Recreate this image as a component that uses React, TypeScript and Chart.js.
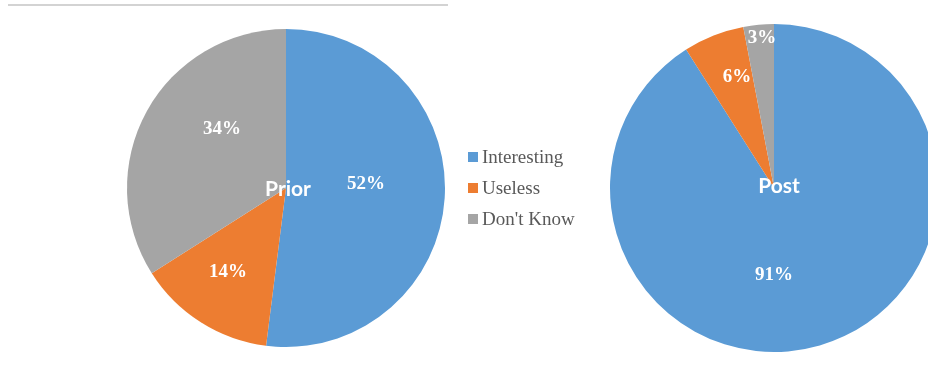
import React, { useEffect, useRef } from "react";
import { Chart, registerables } from "chart.js";

Chart.register(...registerables);

const categories = ["Interesting", "Useless", "Don't Know"];
const priorValues = [52, 14, 34];
const postValues = [91, 6, 3];
const chartTitles = ["Prior", "Post"];

const sliceColors = ["#5B9BD5", "#ED7D31", "#A5A5A5"];

// label placement per slice: [angle offset from slice middle (deg), radius fraction]
const priorLabelPlacement = [
  [-7.2, 0.504],
  [2.5, 0.637],
  [14.4, 0.552],
];
const postLabelPlacement = [
  [16.2, 0.527],
  [3.2, 0.716],
  [0.8, 0.921],
];

function makeLabelPlugin(title: string, placement: number[][], titleDx: number, titleDy: number) {
  return {
    id: "sliceLabels_" + title,
    afterDatasetsDraw(chart: any) {
      const ctx = chart.ctx;
      const meta = chart.getDatasetMeta(0);
      const values = chart.data.datasets[0].data;
      ctx.save();
      ctx.fillStyle = "#ffffff";
      ctx.textAlign = "center";
      ctx.textBaseline = "middle";
      ctx.font = 'bold 19px "Liberation Serif", "Times New Roman", serif';
      let cx = 0;
      let cy = 0;
      meta.data.forEach((arc: any, i: number) => {
        const p = arc.getProps(["x", "y", "startAngle", "endAngle", "outerRadius"], true);
        cx = p.x;
        cy = p.y;
        const [off, frac] = placement[i];
        const mid = (p.startAngle + p.endAngle) / 2 + (off * Math.PI) / 180;
        const lx = p.x + Math.cos(mid) * p.outerRadius * frac;
        const ly = p.y + Math.sin(mid) * p.outerRadius * frac;
        ctx.fillText(values[i] + "%", lx, ly + 1);
      });
      ctx.font = 'bold 21px Lato, "Open Sans", sans-serif';
      ctx.fillText(title, cx + titleDx, cy + titleDy);
      ctx.restore();
    },
  };
}

const decorPlugin = {
  id: "decor",
  beforeDraw(chart: any) {
    const ctx = chart.ctx;
    ctx.save();
    ctx.strokeStyle = "#c4c4c4";
    ctx.lineWidth = 1.5;
    ctx.beginPath();
    ctx.moveTo(8, 5);
    ctx.lineTo(448, 5);
    ctx.stroke();
    ctx.restore();
  },
  afterDraw(chart: any) {
    const ctx = chart.ctx;
    ctx.save();
    ctx.font = '19px "Liberation Serif", "Times New Roman", serif';
    ctx.textBaseline = "middle";
    ctx.textAlign = "left";
    categories.forEach((c, i) => {
      const y = 157 + i * 31;
      ctx.fillStyle = sliceColors[i];
      ctx.fillRect(468, y - 5, 10, 10);
      ctx.fillStyle = "#595959";
      ctx.fillText(c, 482, y + 1);
    });
    ctx.restore();
  },
};

function baseOptions(padding: any) {
  return {
    responsive: false,
    animation: false,
    devicePixelRatio: 1,
    layout: { padding },
    plugins: {
      legend: { display: false },
      tooltip: { enabled: false },
      title: { display: false },
    },
  };
}

export default function App() {
  const leftRef = useRef<HTMLCanvasElement>(null);
  const rightRef = useRef<HTMLCanvasElement>(null);

  useEffect(() => {
    const left = new Chart(leftRef.current as HTMLCanvasElement, {
      type: "pie",
      data: {
        labels: categories,
        datasets: [{ data: priorValues, backgroundColor: sliceColors, borderWidth: 0 }],
      },
      options: baseOptions({ left: 127, right: 483, top: 29, bottom: 23 }) as any,
      plugins: [decorPlugin, makeLabelPlugin(chartTitles[0], priorLabelPlacement, 2, 1)],
    });
    const right = new Chart(rightRef.current as HTMLCanvasElement, {
      type: "pie",
      data: {
        labels: categories,
        datasets: [{ data: postValues, backgroundColor: sliceColors, borderWidth: 0 }],
      },
      options: baseOptions({ left: 10, right: 22, top: 24, bottom: 18 }) as any,
      plugins: [makeLabelPlugin(chartTitles[1], postLabelPlacement, 5, -2)],
    });
    return () => {
      left.destroy();
      right.destroy();
    };
  }, []);

  return (
    <div
      style={{
        position: "absolute",
        left: 0,
        top: 0,
        width: 928,
        height: 370,
        overflow: "hidden",
        background: "#ffffff",
      }}
    >
      <canvas ref={leftRef} width={928} height={370} style={{ position: "absolute", left: 0, top: 0 }} />
      <canvas ref={rightRef} width={360} height={370} style={{ position: "absolute", left: 600, top: 0 }} />
    </div>
  );
}
